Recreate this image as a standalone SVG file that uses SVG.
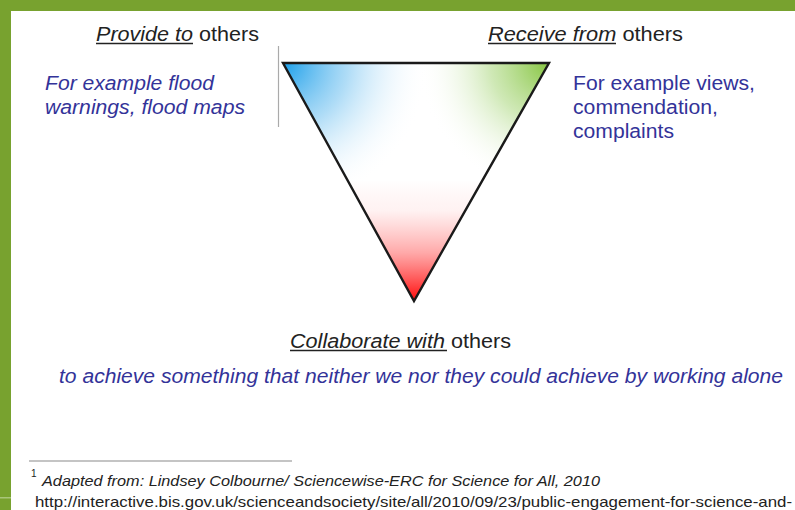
<svg xmlns="http://www.w3.org/2000/svg" width="795" height="510" viewBox="0 0 795 510">
  <style>
    .lbl { font-family: "Liberation Sans", Arial, sans-serif; font-size: 20px; fill: #222222; }
    .it { font-style: italic; }
    .blue { font-family: "Liberation Sans", Arial, sans-serif; font-size: 20px; fill: #333399; }
    .ul { stroke: #222222; stroke-width: 1.6; }
    .foot { font-family: "Liberation Sans", Arial, sans-serif; font-size: 15px; fill: #222222; }
  </style>
  <defs>
    <clipPath id="triClip">
      <polygon points="283,63 549,63 414,301"/>
    </clipPath>
    <radialGradient id="gBlue" gradientUnits="userSpaceOnUse" cx="283" cy="63" r="145">
      <stop offset="0" stop-color="#1A9FEA" stop-opacity="1"/>
      <stop offset="0.45" stop-color="#6EC0F0" stop-opacity="0.55"/>
      <stop offset="1" stop-color="#FFFFFF" stop-opacity="0"/>
    </radialGradient>
    <radialGradient id="gGreen" gradientUnits="userSpaceOnUse" cx="549" cy="63" r="130">
      <stop offset="0" stop-color="#86C540" stop-opacity="1"/>
      <stop offset="0.45" stop-color="#A8D67A" stop-opacity="0.55"/>
      <stop offset="1" stop-color="#FFFFFF" stop-opacity="0"/>
    </radialGradient>
    <linearGradient id="gRed" gradientUnits="userSpaceOnUse" x1="0" y1="180" x2="0" y2="301">
      <stop offset="0" stop-color="#FF2020" stop-opacity="0"/>
      <stop offset="0.25" stop-color="#FF6060" stop-opacity="0.08"/>
      <stop offset="0.6" stop-color="#FF4040" stop-opacity="0.45"/>
      <stop offset="1" stop-color="#FF0A0A" stop-opacity="1"/>
    </linearGradient>
  </defs>

  <rect x="0" y="0" width="795" height="510" fill="#FFFFFF"/>

  <g id="frame">
    <rect x="0" y="0" width="795" height="11" fill="#78A22F"/>
    <rect x="0" y="0" width="11" height="510" fill="#78A22F"/>
    <rect x="0" y="497" width="11" height="1.5" fill="#A9C67A"/>
  </g>

  <g id="triangle">
    <polygon points="283,63 549,63 414,301" fill="#FFFFFF"/>
    <g clip-path="url(#triClip)">
      <rect x="280" y="60" width="272" height="244" fill="url(#gBlue)"/>
      <rect x="280" y="60" width="272" height="244" fill="url(#gGreen)"/>
      <rect x="280" y="60" width="272" height="244" fill="url(#gRed)"/>
    </g>
    <polygon points="283,63 549,63 414,301" fill="none" stroke="#1A1A1A" stroke-width="2.4" stroke-linejoin="miter"/>
  </g>

  <g id="connectors">
    <line x1="278.5" y1="46" x2="278.5" y2="127" stroke="#AAAAAA" stroke-width="1.2"/>
  </g>

  <g id="provide">
    <text class="lbl" x="96" y="41" textLength="163" lengthAdjust="spacingAndGlyphs"><tspan class="it">Provide to</tspan> others</text>
    <line class="ul" x1="96" y1="43.5" x2="193" y2="43.5"/>
    <text class="blue it" x="45" y="90" textLength="169" lengthAdjust="spacingAndGlyphs">For example flood</text>
    <text class="blue it" x="45" y="114" textLength="200" lengthAdjust="spacingAndGlyphs">warnings, flood maps</text>
  </g>

  <g id="receive">
    <text class="lbl" x="488" y="41" textLength="195" lengthAdjust="spacingAndGlyphs"><tspan class="it">Receive from</tspan> others</text>
    <line class="ul" x1="488" y1="43.5" x2="616" y2="43.5"/>
    <text class="blue" x="573" y="90" textLength="182" lengthAdjust="spacingAndGlyphs">For example views,</text>
    <text class="blue" x="573" y="114" textLength="145" lengthAdjust="spacingAndGlyphs">commendation,</text>
    <text class="blue" x="573" y="138" textLength="101" lengthAdjust="spacingAndGlyphs">complaints</text>
  </g>

  <g id="collaborate">
    <text class="lbl" x="290" y="348" textLength="221" lengthAdjust="spacingAndGlyphs"><tspan class="it">Collaborate with</tspan> others</text>
    <line class="ul" x1="290" y1="350.5" x2="447" y2="350.5"/>
    <text class="blue it" x="59" y="383" textLength="724" lengthAdjust="spacingAndGlyphs">to achieve something that neither we nor they could achieve by working alone</text>
  </g>

  <g id="footnote">
    <line x1="29" y1="461" x2="292" y2="461" stroke="#C4C4C4" stroke-width="2"/>
    <text class="foot" x="31" y="477" style="font-size:10px">1</text>
    <text class="foot it" x="42" y="486" textLength="558" lengthAdjust="spacingAndGlyphs">Adapted from: Lindsey Colbourne/ Sciencewise-ERC for Science for All, 2010</text>
    <text class="foot" x="35" y="507" textLength="757" lengthAdjust="spacingAndGlyphs">http://interactive.bis.gov.uk/scienceandsociety/site/all/2010/09/23/public-engagement-for-science-and-</text>
  </g>
</svg>
